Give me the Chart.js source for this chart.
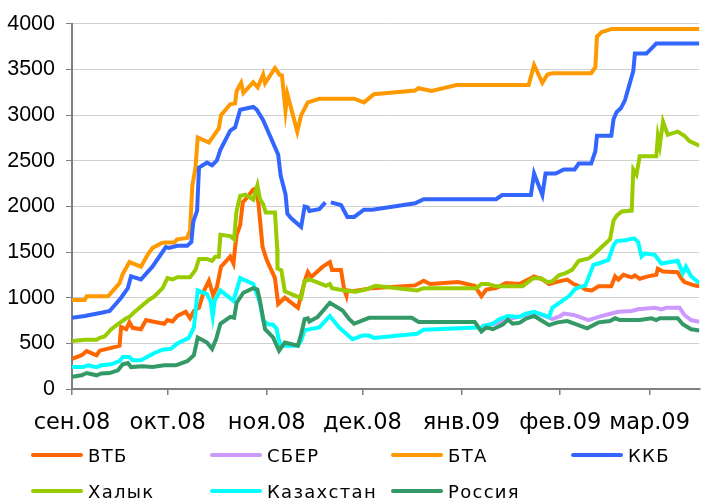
<!DOCTYPE html>
<html>
<head>
<meta charset="utf-8">
<script src="https://cdn.jsdelivr.net/npm/chart.js@4.4.1/dist/chart.umd.min.js"></script>
<style>
  body { margin: 0; background: #fff; }
  #wrap { position: relative; width: 705px; height: 502px; }
  #legend .item { position: absolute; height: 20px; display: flex; align-items: center; }
  #legend .swatch { width: 52px; height: 4px; border-radius: 2px; margin-right: 5px; }
  #legend .text { font: 18px "DejaVu Sans", sans-serif; letter-spacing: 1.3px; color: #000; white-space: nowrap; }
</style>
</head>
<body>
<div id="wrap">
  <canvas id="chart" width="705" height="502"></canvas>
  <div id="legend"></div>
</div>
<script>
// x = days since 1 Sep 2008
const monthDays = [0, 30, 61, 91, 122, 153, 181];
const monthLabels = ['сен.08', 'окт.08', 'ноя.08', 'дек.08', 'янв.09', 'фев.09', 'мар.09'];

const vtbDays = [0, 3, 4.6, 6.6, 7.7, 8.7, 12.3, 14.9, 15.4, 17, 18, 19, 21.6, 23.2, 25.2, 28.9, 29.9, 31.5, 33, 35.6, 37, 38.2, 39.8, 41.3, 42.9, 44.2, 45.4, 46.7, 49.6, 50.6, 51.1, 51.6, 52.7, 53.5, 55.3, 56.6, 57.4, 58.4, 59.7, 61, 63.6, 64.6, 66.7, 70.8, 72.9, 73.9, 74.9, 78.6, 80.8, 81.5, 84.3, 85.3, 86, 86.3, 87.9, 94.1, 107.5, 110.2, 112.2, 121, 126.2, 128.3, 129.8, 132.9, 136, 140.2, 142.8, 144.8, 147.4, 149.5, 152.6, 155.2, 157.2, 159.8, 160.9, 162.9, 165, 169, 170.2, 171.2, 172.8, 175.4, 176.4, 177.9, 180.5, 183.1, 183.6, 185.2, 189.8, 190.9, 191.9, 195, 196.6];
const vtbValues = [330, 370, 415, 385, 370, 420, 450, 475, 680, 655, 730, 670, 655, 755, 740, 715, 755, 740, 800, 845, 775, 855, 890, 1070, 1185, 1030, 1115, 1340, 1450, 1375, 1550, 1685, 1795, 2045, 2115, 2180, 2195, 2045, 1560, 1415, 1215, 930, 1000, 890, 1180, 1280, 1225, 1340, 1390, 1305, 1305, 1090, 1020, 1080, 1070, 1105, 1135, 1187, 1150, 1172, 1130, 1017, 1089, 1107, 1161, 1150, 1198, 1234, 1200, 1150, 1179, 1198, 1150, 1114, 1089, 1079, 1125, 1125, 1234, 1198, 1251, 1223, 1244, 1208, 1234, 1251, 1317, 1288, 1280, 1215, 1172, 1136, 1125];

const sberDays = [128.8, 131.9, 136, 140.2, 144.8, 149, 150.5, 153.1, 154.1, 157.2, 161.9, 165, 168.1, 171.2, 175.4, 177.4, 182.6, 184.7, 186.2, 190.4, 191.9, 194, 196.6];
const sberValues = [692, 710, 760, 790, 840, 790, 765, 801, 826, 811, 754, 790, 819, 847, 855, 873, 890, 873, 890, 890, 811, 754, 736];

const btaDays = [0, 4, 4.6, 11.3, 14.9, 15.9, 18, 21.6, 23.7, 25.2, 27.9, 28.9, 32, 33, 36.1, 37, 37.7, 38.7, 39.4, 42.9, 46, 46.7, 49.6, 51.1, 51.6, 53, 53.7, 56.8, 58.2, 59.9, 60.5, 63.6, 65.1, 65.8, 66.9, 67.5, 70.6, 71.8, 73.9, 77.5, 88.4, 91.5, 94.6, 107.5, 108.6, 112.7, 120.5, 143.1, 144.8, 147.4, 149, 150.5, 162.7, 164, 164.5, 166, 169.2, 196.6];
const btaValues = [975, 975, 1015, 1015, 1160, 1260, 1390, 1340, 1470, 1545, 1595, 1605, 1605, 1640, 1655, 1740, 2225, 2425, 2755, 2700, 2855, 3000, 3120, 3130, 3265, 3355, 3245, 3360, 3305, 3445, 3350, 3515, 3440, 3435, 3050, 3230, 2820, 3000, 3140, 3180, 3180, 3140, 3230, 3270, 3295, 3265, 3330, 3330, 3550, 3355, 3445, 3460, 3460, 3525, 3860, 3910, 3945, 3945];

const kkbDays = [0, 4, 9.2, 11.8, 15.4, 17.5, 18.5, 21.6, 25.2, 29.4, 30.4, 33, 36.1, 37.4, 38, 39.2, 39.8, 42.3, 43.9, 45.4, 46.5, 49.6, 51.1, 52.7, 56.8, 57.9, 59.9, 64.6, 65.4, 66.9, 67.5, 68.7, 71.8, 72.9, 73.9, 74.4, 77.5, 79.4, 80.2, 81.1, 84.3, 86.3, 88.4, 91.5, 94.1, 107.5, 110.2, 132.9, 134.8, 143.8, 144.8, 147.4, 148.4, 151.6, 154.1, 157.5, 158.8, 162.7, 164, 164.5, 169, 169.7, 170.7, 172, 173.3, 175.9, 176.4, 180, 183.1, 196.6];
const kkbValues = [780, 800, 835, 855, 1000, 1105, 1235, 1200, 1340, 1555, 1545, 1570, 1570, 1610, 1830, 1955, 2425, 2480, 2450, 2505, 2620, 2830, 2865, 3060, 3090, 3060, 2945, 2570, 2335, 2135, 1920, 1870, 1775, 2000, 1990, 1950, 1970, 2045, null, 2045, 2015, 1885, 1885, 1965, 1965, 2035, 2080, 2080, 2125, 2125, 2360, 2125, 2360, 2360, 2405, 2405, 2470, 2470, 2605, 2775, 2775, 2955, 3035, 3075, 3165, 3485, 3675, 3675, 3785, 3785];

const halykDays = [0, 4, 7.7, 8.7, 10.2, 12.3, 14.4, 17, 18, 19.6, 23.7, 25.8, 28.4, 29.9, 31.5, 33, 37, 38.7, 39.8, 42.3, 43.9, 44.9, 46, 46.5, 49.6, 50.8, 51.5, 52.7, 54.3, 56.8, 58.1, 58.9, 59.9, 60.7, 63.6, 64.3, 64.4, 65.6, 66.7, 71.8, 72.9, 74.4, 77.5, 79.6, 80.8, 81.5, 85.3, 88.9, 92, 95.1, 108.1, 110.2, 126.7, 128.3, 130.3, 132.9, 141.2, 144.3, 146.9, 149, 150.5, 152.6, 154.7, 156.7, 158.8, 161.9, 163.4, 168.6, 169.7, 170.7, 172.3, 175.4, 175.9, 176.9, 177.9, 183.1, 183.6, 184.2, 185.2, 186.7, 189.8, 191.9, 193.5, 196.6];
const halykValues = [525, 540, 540, 560, 575, 655, 710, 775, 790, 845, 965, 1015, 1105, 1215, 1200, 1225, 1225, 1305, 1425, 1425, 1405, 1450, 1450, 1690, 1675, 1640, 1935, 2115, 2130, 2075, 2230, 2080, 2025, 1935, 1935, 1540, 1320, 1300, 1070, 995, 1180, 1200, 1160, 1130, 1150, 1105, 1080, 1065, 1090, 1130, 1080, 1105, 1105, 1150, 1150, 1125, 1125, 1210, 1215, 1170, 1180, 1245, 1270, 1305, 1405, 1430, 1470, 1640, 1845, 1900, 1945, 1955, 2405, 2350, 2550, 2550, 2770, 2665, 2930, 2785, 2820, 2775, 2715, 2665];

const kazDays = [0, 3.5, 5, 7.7, 9.2, 12.3, 14.9, 15.9, 18, 19, 21.6, 25.8, 28.4, 31, 33, 36.6, 38.2, 39.4, 42.3, 43.4, 44.1, 44.7, 46.5, 50.6, 52.7, 56.8, 58.9, 59.9, 61.5, 63, 64.1, 64.6, 65.4, 70.8, 71.8, 72.9, 77.5, 80.8, 83.7, 87.9, 91, 93.1, 94.6, 108.1, 110.2, 126.7, 128.3, 128.8, 131.9, 133.9, 136.6, 140.2, 142.2, 144.8, 149.5, 150.5, 153.6, 155.7, 157.8, 160.9, 163.4, 165, 168.1, 169.7, 170.7, 173.3, 176.2, 177.4, 178.5, 179.5, 182.6, 184.7, 189.8, 191.4, 192.4, 194, 196.6];
const kazValues = [240, 240, 260, 240, 260, 270, 305, 350, 350, 315, 315, 395, 430, 440, 500, 560, 675, 1080, 1040, 965, 800, 965, 1080, 965, 1215, 1150, 945, 750, 710, 705, 660, 570, 475, 475, 530, 645, 675, 800, 675, 545, 585, 585, 560, 605, 650, 675, 660, 690, 715, 765, 800, 790, 825, 845, 790, 890, 965, 1015, 1100, 1135, 1360, 1375, 1415, 1575, 1620, 1630, 1650, 1610, 1450, 1485, 1470, 1375, 1405, 1270, 1340, 1235, 1160];

const rusDays = [0, 3, 4.6, 7.7, 9.2, 11.8, 14.4, 15.9, 17.5, 18.5, 22.1, 25.2, 28.9, 32.5, 36.1, 38.2, 39.4, 42.3, 43.9, 45.2, 46.5, 49.6, 50.8, 51.6, 53.7, 56.8, 58.1, 58.9, 60.5, 63, 64.9, 66.7, 70.8, 71.8, 72.9, 73.9, 74.4, 77, 78.6, 80.8, 84.8, 86.9, 88.4, 93.1, 106.5, 108.6, 126.2, 128.3, 129.8, 131.9, 135, 136.6, 138.1, 140.2, 142.2, 144.8, 147.4, 149.5, 152.1, 155.2, 157.2, 161.4, 165, 168.6, 170.2, 171.7, 177.9, 181.6, 183.1, 184.2, 189.8, 191.4, 194, 196.6];
const rusValues = [135, 150, 175, 150, 170, 175, 205, 270, 285, 240, 250, 240, 260, 260, 305, 370, 565, 510, 440, 550, 715, 790, 780, 945, 1055, 1105, 1090, 965, 655, 565, 420, 510, 475, 600, 765, 775, 740, 790, 855, 945, 860, 765, 715, 780, 780, 735, 735, 630, 675, 655, 705, 760, 715, 725, 770, 800, 745, 700, 730, 745, 720, 665, 730, 745, 775, 755, 755, 775, 755, 775, 775, 710, 655, 640];

const series = [
  { label: 'ВТБ', days: vtbDays, values: vtbValues, color: '#FF6600' },
  { label: 'СБЕР', days: sberDays, values: sberValues, color: '#CC99FF' },
  { label: 'БТА', days: btaDays, values: btaValues, color: '#FF9900' },
  { label: 'ККБ', days: kkbDays, values: kkbValues, color: '#3366FF' },
  { label: 'Халык', days: halykDays, values: halykValues, color: '#99CC00' },
  { label: 'Казахстан', days: kazDays, values: kazValues, color: '#00FFFF' },
  { label: 'Россия', days: rusDays, values: rusValues, color: '#339966' }
];

const datasets = series.map((s, i) => ({
  label: s.label,
  data: s.days.map((d, j) => ({ x: d, y: s.values[j] })),
  borderColor: s.color,
  backgroundColor: s.color,
  borderWidth: 4,
  pointRadius: 0,
  tension: 0,
  spanGaps: false,
  order: series.length - i   // later series drawn on top, like the original
}));

new Chart(document.getElementById('chart'), {
  type: 'line',
  data: { datasets: datasets },
  options: {
    responsive: false,
    animation: false,
    layout: { padding: { top: 19, right: 0, bottom: 0, left: 0 } },
    plugins: { legend: { display: false }, tooltip: { enabled: false } },
    scales: {
      x: {
        type: 'linear',
        min: 0,
        max: 196.6,
        afterBuildTicks: (scale) => { scale.ticks = monthDays.map(v => ({ value: v })); },
        afterFit: (scale) => { scale.height = 113; },
        ticks: {
          autoSkip: false,
          maxRotation: 0,
          padding: 15,
          color: '#000',
          font: { family: 'DejaVu Sans', size: 22.5 },
          callback: (v) => monthLabels[monthDays.indexOf(v)]
        },
        grid: { drawOnChartArea: false, tickLength: 6, color: '#808080', lineWidth: 1.5 },
        border: { color: '#808080', width: 2 }
      },
      y: {
        min: 0,
        max: 4000,
        afterFit: (scale) => { scale.width = 72; },
        ticks: {
          stepSize: 500,
          padding: 11,
          color: '#000',
          font: { family: 'Liberation Sans', size: 21.5 },
          callback: (v) => String(v)
        },
        grid: { color: '#D0D0D0', lineWidth: 1, tickLength: 6, tickColor: '#808080' },
        border: { color: '#808080', width: 2 }
      }
    }
  }
});

// legend laid out in four fixed columns like the original
const legendCols = [31, 210, 391, 571];
const legendRows = [445, 481];
const legendEl = document.getElementById('legend');
series.forEach((s, i) => {
  const item = document.createElement('div');
  item.className = 'item';
  item.style.left = legendCols[i % 4] + 'px';
  item.style.top = legendRows[Math.floor(i / 4)] + 'px';
  item.innerHTML = '<div class="swatch" style="background:' + s.color + '"></div><span class="text">' + s.label + '</span>';
  legendEl.appendChild(item);
});
</script>
</body>
</html>
